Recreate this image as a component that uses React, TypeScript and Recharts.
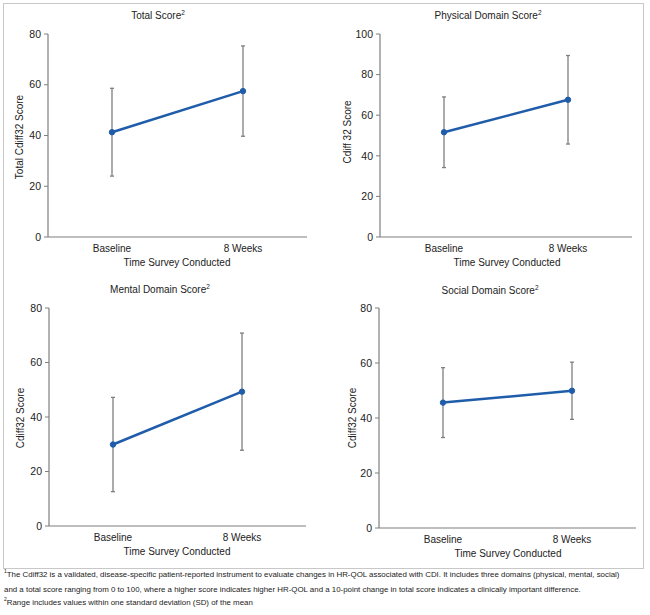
import React from 'react';
import { LineChart, Line, XAxis, YAxis, ErrorBar } from 'recharts';

const categories = ['Baseline', '8 Weeks'];
const totalMean = [41.3, 57.5];
const totalSD = [17.3, 17.8];
const physicalMean = [51.6, 67.6];
const physicalSD = [17.4, 21.8];
const mentalMean = [29.9, 49.3];
const mentalSD = [17.3, 21.5];
const socialMean = [45.6, 49.9];
const socialSD = [12.7, 10.4];

const ticks80 = [0, 20, 40, 60, 80];
const ticks100 = [0, 20, 40, 60, 80, 100];

const FONT = '"Liberation Sans", Arial, sans-serif';
const LINE = '#1f5ca9';
const GREY = '#7f7f7f';
const TEXT = '#222';

function build(means: number[], sds: number[]) {
  return categories.map((c, i) => ({ cat: c, mean: means[i], sd: sds[i] }));
}

type PanelProps = {
  left: number; top: number; width: number; height: number;
  margin: { top: number; right: number; bottom: number; left: number };
  means: number[]; sds: number[]; ticks: number[];
};

function Panel(p: PanelProps) {
  const data = build(p.means, p.sds);
  const max = p.ticks[p.ticks.length - 1];
  return (
    <div style={{ position: 'absolute', left: p.left, top: p.top }}>
      <LineChart width={p.width} height={p.height} data={data} margin={p.margin}>
        <XAxis dataKey="cat" height={20} tickLine={false} axisLine={{ stroke: GREY, strokeWidth: 1.2 }}
          padding={{ left: 64, right: 64 }} tick={{ fill: TEXT, fontSize: 10, fontFamily: FONT }} tickSize={6} tickMargin={2} />
        <YAxis width={40} domain={[0, max]} ticks={p.ticks} interval={0} axisLine={{ stroke: GREY, strokeWidth: 1.2 }}
          tickLine={{ stroke: GREY }} tickSize={4} tickMargin={3} tick={{ fill: TEXT, fontSize: 10.5, fontFamily: FONT }} />
        <Line dataKey="mean" stroke={LINE} strokeWidth={2.5} isAnimationActive={false}
          dot={{ r: 2.7, fill: LINE, stroke: LINE, strokeWidth: 1 }}>
          <ErrorBar dataKey="sd" direction="y" width={2} stroke={GREY} strokeWidth={1.3} />
        </Line>
      </LineChart>
    </div>
  );
}

function Label(props: { x: number; y: number; text: React.ReactNode; rotate?: boolean }) {
  return (
    <div style={{
      position: 'absolute', left: props.x, top: props.y, whiteSpace: 'nowrap',
      transform: `translate(-50%, -50%)${props.rotate ? ' rotate(-90deg)' : ''}`,
      fontFamily: FONT, fontSize: 10, color: TEXT, lineHeight: '12px',
    }}>{props.text}</div>
  );
}

function Title({ x, y, text }: { x: number; y: number; text: string }) {
  return <Label x={x} y={y} text={<span>{text}<sup style={{ fontSize: 6.5, verticalAlign: 'super', lineHeight: 0 }}>2</sup></span>} />;
}

export default function App() {
  return (
    <div style={{ position: 'absolute', left: 0, top: 0, width: 650, height: 615, background: '#fff', overflow: 'hidden' }}>
      <div style={{ position: 'absolute', left: 3, top: 3, width: 639, height: 564, border: '1px solid #c8c8c8' }} />

      <Panel left={0} top={0} width={325} height={290}
        margin={{ top: 34, right: 18, bottom: 33, left: 8 }} means={totalMean} sds={totalSD} ticks={ticks80} />
      <Panel left={325} top={0} width={325} height={290}
        margin={{ top: 34, right: 18, bottom: 33, left: 15 }} means={physicalMean} sds={physicalSD} ticks={ticks100} />
      <Panel left={0} top={290} width={325} height={290}
        margin={{ top: 18, right: 19, bottom: 34, left: 9 }} means={mentalMean} sds={mentalSD} ticks={ticks80} />
      <Panel left={325} top={290} width={325} height={290}
        margin={{ top: 18, right: 14, bottom: 32, left: 14 }} means={socialMean} sds={socialSD} ticks={ticks80} />

      <Title x={158} y={16} text="Total Score" />
      <Title x={488} y={16} text="Physical Domain Score" />
      <Title x={160} y={290} text="Mental Domain Score" />
      <Title x={490} y={291} text="Social Domain Score" />

      <Label x={177} y={263} text="Time Survey Conducted" />
      <Label x={507} y={263} text="Time Survey Conducted" />
      <Label x={177} y={552} text="Time Survey Conducted" />
      <Label x={508} y={554} text="Time Survey Conducted" />

      <Label x={20} y={137} rotate text="Total Cdiff32 Score" />
      <Label x={348} y={132} rotate text="Cdiff 32 Score" />
      <Label x={21} y={418} rotate text="Cdiff32 Score" />
      <Label x={353} y={418} rotate text="Cdiff32 Score" />

      <div style={{ position: 'absolute', left: 4, top: 571, fontFamily: FONT, fontSize: 7.9, color: TEXT, lineHeight: '8px', whiteSpace: 'nowrap' }}>
        <div><sup style={{ fontSize: 5, lineHeight: 0 }}>1</sup>The Cdiff32 is a validated, disease-specific patient-reported instrument to evaluate changes in HR-QOL associated with CDI. It includes three domains (physical, mental, social)</div>
        <div style={{ marginTop: 7 }}>and a total score ranging from 0 to 100, where a higher score indicates higher HR-QOL and a 10-point change in total score indicates a clinically important difference.</div>
        <div style={{ marginTop: 5 }}><sup style={{ fontSize: 5, lineHeight: 0 }}>2</sup>Range includes values within one standard deviation (SD) of the mean</div>
      </div>
    </div>
  );
}
